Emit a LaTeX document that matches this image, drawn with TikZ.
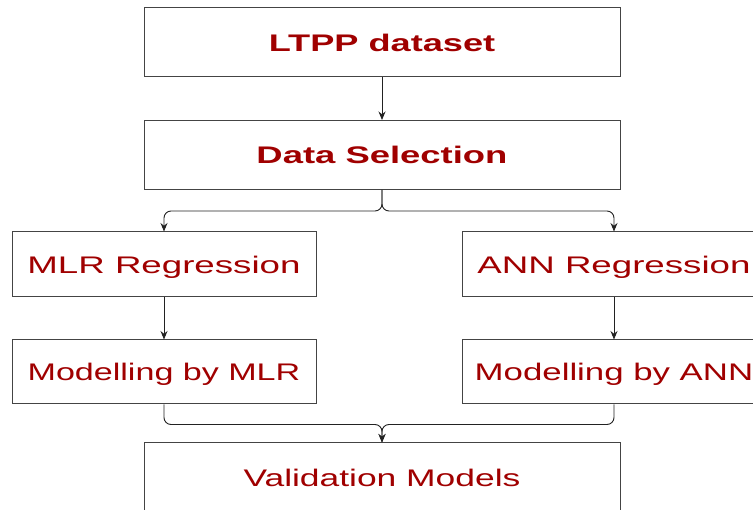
\documentclass[tikz,border=0pt]{standalone}
\usepackage{fontspec}
\setmainfont{Liberation Sans}
\usetikzlibrary{arrows.meta}
\definecolor{txtred}{HTML}{A00000}
\definecolor{boxline}{HTML}{444444}
\definecolor{arrline}{HTML}{222222}
\tikzset{
  box/.style={draw=boxline, line width=1pt, fill=white, rectangle, inner sep=0pt,
              text height=17.5pt, text depth=0pt,
              text=txtred, font=\fontsize{24}{28}\selectfont},
  wide/.style={minimum width=476pt, minimum height=69pt},
  side/.style={minimum width=304pt, minimum height=65pt},
  arr/.style={draw=arrline, line width=0.9pt, rounded corners=7pt,
              -{Stealth[length=8.5pt,width=7pt]}},
}
\newcommand{\wtxt}[2]{\scalebox{#1}[1]{#2}}
\begin{document}
\begin{tikzpicture}[x=1pt,y=-1pt]
\useasboundingbox (0,0) rectangle (753,510);
\fill[white] (0,0) rectangle (753,510);
\node[box,wide] (ltpp) at (382,42.5) {\wtxt{1.507}{\bfseries LTPP dataset}};
\node[box,wide] (ds) at (382,155) {\wtxt{1.518}{\bfseries Data Selection}};
\node[box,side] (mlr) at (164,264.5) {\wtxt{1.528}{MLR Regression}};
\node[box,side] (ann) at (614,264.5) {\wtxt{1.528}{ANN Regression}};
\node[box,side,minimum height=64pt] (mlr2) at (164,372) {\wtxt{1.42}{Modelling by MLR}};
\node[box,side,minimum height=64pt] (ann2) at (614,372) {\wtxt{1.45}{Modelling by ANN}};
\node[box,wide,minimum height=70pt] (val) at (382,478) {\wtxt{1.475}{Validation Models}};
\draw[arr] (ltpp.south) -- (ds.north);
\draw[arr] (ds.south) -- ++(0,21) -| (mlr.north);
\draw[arr] (ds.south) -- ++(0,21) -| (ann.north);
\draw[arr] (mlr.south) -- (mlr2.north);
\draw[arr] (ann.south) -- (ann2.north);
\draw[arr] (mlr2.south) -- ++(0,20) -| (val.north);
\draw[arr] (ann2.south) -- ++(0,20) -| (val.north);
\end{tikzpicture}
\end{document}
